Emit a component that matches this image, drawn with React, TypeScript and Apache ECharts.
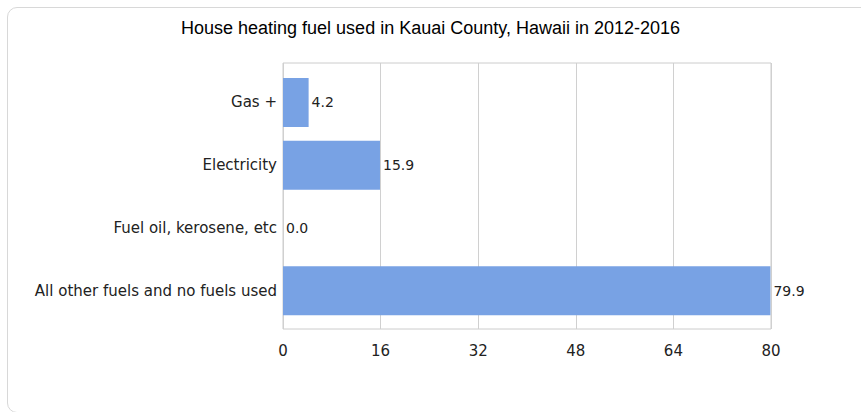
import React, { useEffect, useRef } from "react";
import * as echarts from "echarts";

const titleText = "House heating fuel used in Kauai County, Hawaii in 2012-2016";
const categories = [
  "Gas +",
  "Electricity",
  "Fuel oil, kerosene, etc",
  "All other fuels and no fuels used",
];
const values = [4.2, 15.9, 0.0, 79.9];
const xMin = 0;
const xMax = 80;
const xInterval = 16;

export default function App() {
  const ref = useRef<HTMLDivElement>(null);
  useEffect(() => {
    if (!ref.current) return;
    const chart = echarts.init(ref.current, undefined, { renderer: "svg" });
    const font = "DejaVu Sans";
    chart.setOption({
      animation: false,
      title: {
        text: titleText,
        left: "center",
        top: 14,
        textStyle: {
          fontFamily: "Liberation Sans",
          fontSize: 18,
          fontWeight: "normal",
          color: "#000",
        },
      },
      grid: [
        {
          left: 283,
          top: 63,
          width: 488,
          height: 266,
          show: true,
          borderColor: "#cccccc",
          borderWidth: 1,
          backgroundColor: "transparent",
        },
        {
          left: 283,
          top: 71,
          width: 488,
          height: 251,
        },
      ],
      xAxis: [
        {
          type: "value",
          gridIndex: 0,
          min: xMin,
          max: xMax,
          interval: xInterval,
          axisLine: { show: false },
          axisTick: { show: false },
          splitLine: { show: true, lineStyle: { color: "#d0d0d0", width: 1 } },
          axisLabel: {
            margin: 14,
            fontFamily: font,
            fontSize: 15,
            color: "#222",
          },
        },
        {
          type: "value",
          gridIndex: 1,
          min: xMin,
          max: xMax,
          interval: xInterval,
          show: false,
          splitLine: { show: false },
        },
      ],
      yAxis: [
        {
          type: "category",
          gridIndex: 0,
          data: categories,
          inverse: true,
          show: false,
          splitLine: { show: false },
        },
        {
          type: "category",
          gridIndex: 1,
          data: categories,
          inverse: true,
          axisLine: { show: false },
          axisTick: { show: false },
          splitLine: { show: false },
          axisLabel: {
            margin: 6,
            fontFamily: font,
            fontSize: 15,
            color: "#222",
          },
        },
      ],
      series: [
        {
          type: "bar",
          xAxisIndex: 1,
          yAxisIndex: 1,
          data: values,
          barWidth: 49,
          itemStyle: { color: "#78a2e4" },
          label: {
            show: true,
            position: "right",
            distance: 3,
            formatter: (p: any) => Number(p.value).toFixed(1),
            fontFamily: font,
            fontSize: 14,
            color: "#222",
          },
        },
      ],
    });
    return () => chart.dispose();
  }, []);
  return (
    <div
      style={{
        position: "absolute",
        left: 0,
        top: 0,
        width: 861,
        height: 412,
        overflow: "hidden",
        background: "#ffffff",
      }}
    >
      <div
        style={{
          position: "absolute",
          left: 7,
          top: 7,
          width: 1000,
          height: 406,
          boxSizing: "border-box",
          border: "1.5px solid #d8d8d8",
          borderRadius: 10,
        }}
      />
      <div
        ref={ref}
        style={{ position: "absolute", left: 0, top: 0, width: 861, height: 412 }}
      />
    </div>
  );
}
